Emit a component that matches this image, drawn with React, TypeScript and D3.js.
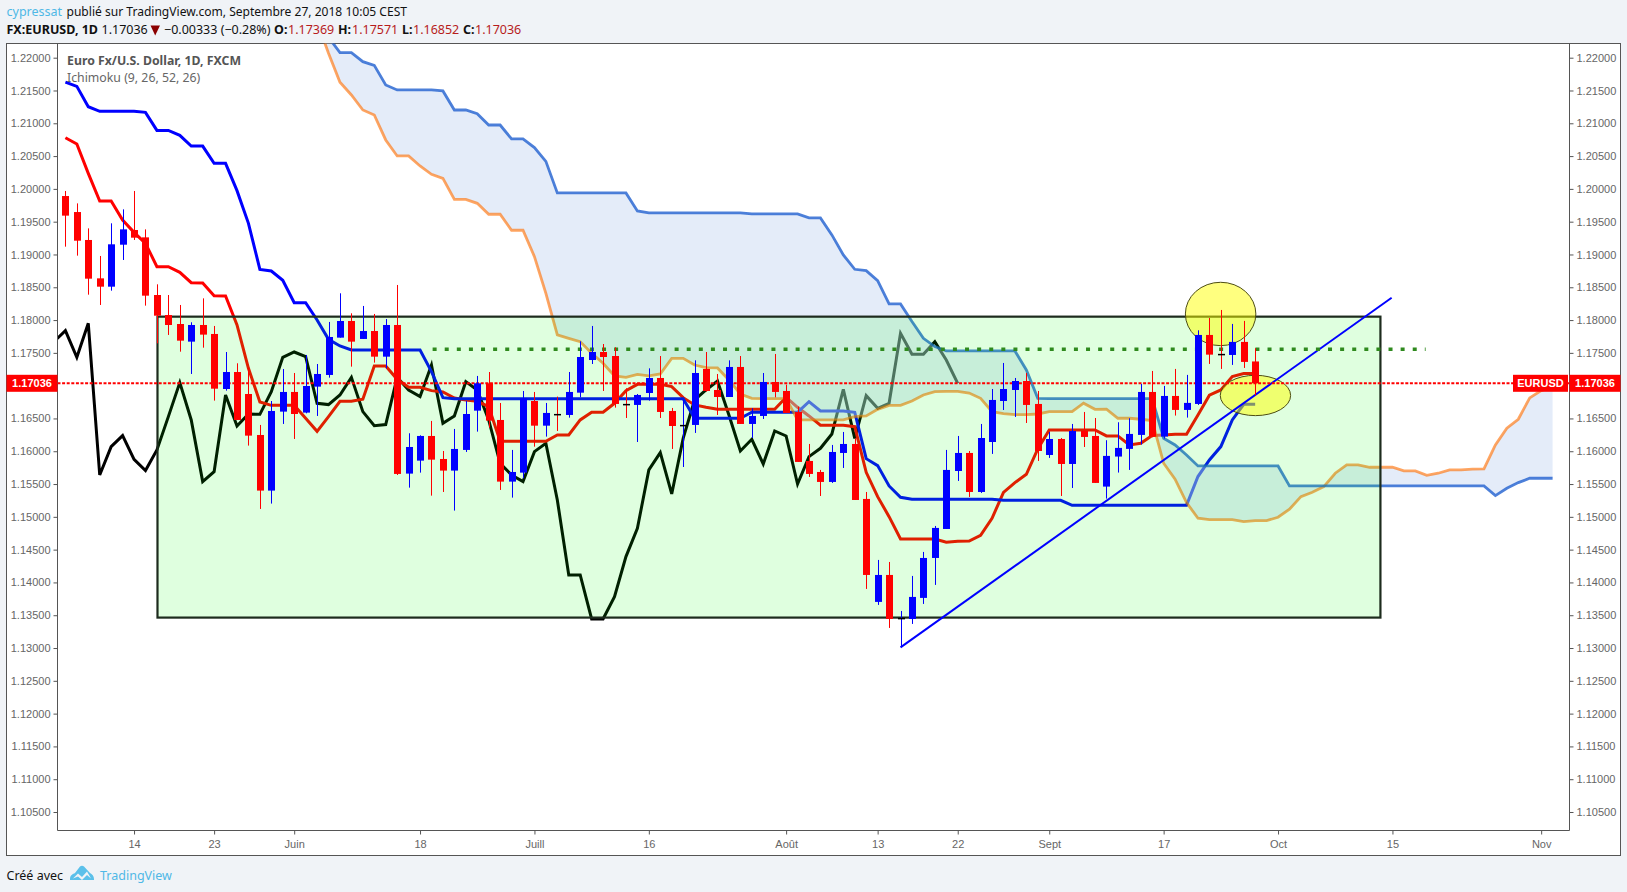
import React, { useEffect, useRef } from "react";
import * as d3 from "d3";

const WIDTH = 1627;
const HEIGHT = 892;

// one candle per weekday, index 0 = 4 May 2018
const opens = [
	1.19891, 1.19647, 1.19221, 1.18636, 1.18509, 1.19149, 1.19373, 1.19261, 1.18382, 1.18077,
	1.1794, 1.17671, 1.17925, 1.17788, 1.16949, 1.17208, 1.16873, 1.16248, 1.154, 1.16604,
	1.16904, 1.16589, 1.16985, 1.17163, 1.17732, 1.17986, 1.17712, 1.17833, 1.17442, 1.17925,
	1.15659, 1.15857, 1.16233, 1.15882, 1.15705, 1.1602, 1.16619, 1.17036, 1.16477, 1.15537,
	1.15674, 1.16766, 1.1639, 1.16569, 1.16553, 1.16893, 1.17391, 1.17513, 1.17452, 1.16722,
	1.16706, 1.16888, 1.17117, 1.16614, 1.164, 1.16401, 1.17254, 1.16934, 1.16827, 1.17285,
	1.16416, 1.16538, 1.17056, 1.16919, 1.16599, 1.15852, 1.15684, 1.15532, 1.15974, 1.16111,
	1.15273, 1.13703, 1.14114, 1.13458, 1.13443, 1.13764, 1.14373, 1.14815, 1.15699, 1.15974,
	1.15379, 1.16141, 1.16766, 1.16934, 1.17071, 1.16721, 1.15943, 1.16187, 1.15806, 1.16309,
	1.16233, 1.15461, 1.15919, 1.16036, 1.16249, 1.16904, 1.16224, 1.16843, 1.1663, 1.16721,
	1.17773, 1.17485, 1.17468, 1.17667, 1.17369,
];
const highs = [
	1.19968, 1.19779, 1.19398, 1.18977, 1.19475, 1.19688, 1.19968, 1.19383, 1.18545, 1.18382,
	1.1823, 1.17966, 1.18331, 1.1791, 1.17513, 1.17341, 1.17264, 1.16401, 1.16766, 1.17254,
	1.17193, 1.17468, 1.1733, 1.17971, 1.18408, 1.18103, 1.18215, 1.18093, 1.18016, 1.18535,
	1.16274, 1.16243, 1.16462, 1.16004, 1.1634, 1.16766, 1.17148, 1.17208, 1.16736, 1.1602,
	1.16919, 1.16904, 1.16736, 1.16833, 1.17208, 1.17676, 1.1791, 1.17635, 1.17584, 1.1696,
	1.16873, 1.17264, 1.17452, 1.1666, 1.16782, 1.17386, 1.17513, 1.17178, 1.17386, 1.17452,
	1.16655, 1.17193, 1.17483, 1.17015, 1.1668, 1.16111, 1.15715, 1.16096, 1.16294, 1.16197,
	1.15379, 1.14343, 1.14312, 1.13565, 1.14099, 1.14465, 1.14861, 1.1602, 1.16233, 1.16004,
	1.16416, 1.16949, 1.17346, 1.17117, 1.17193, 1.16919, 1.16294, 1.16202, 1.16416, 1.16599,
	1.16507, 1.16168, 1.16442, 1.16503, 1.17026, 1.17224, 1.16996, 1.17255, 1.17164, 1.17844,
	1.18032, 1.18154, 1.17941, 1.17987, 1.17571,
];
const lows = [
	1.19119, 1.18982, 1.18387, 1.1823, 1.18448, 1.18916, 1.19221, 1.1822, 1.17645, 1.17773,
	1.17518, 1.17178, 1.17579, 1.16772, 1.16924, 1.16477, 1.16086, 1.1512, 1.15202, 1.16416,
	1.16187, 1.16578, 1.16538, 1.17122, 1.17732, 1.1729, 1.17712, 1.17351, 1.17264, 1.15638,
	1.15445, 1.15674, 1.15323, 1.15379, 1.15095, 1.15989, 1.16299, 1.1636, 1.1541, 1.15293,
	1.15588, 1.1607, 1.16223, 1.16309, 1.16512, 1.16822, 1.1733, 1.16919, 1.16665, 1.16507,
	1.16141, 1.16772, 1.16507, 1.16035, 1.1576, 1.16279, 1.16909, 1.16553, 1.16827, 1.16416,
	1.16202, 1.16492, 1.16822, 1.16584, 1.15837, 1.15608, 1.15318, 1.15517, 1.15745, 1.15257,
	1.13901, 1.13657, 1.13306, 1.13022, 1.13367, 1.13672, 1.13962, 1.14815, 1.15547, 1.15303,
	1.15364, 1.15959, 1.16629, 1.16523, 1.16431, 1.15852, 1.15898, 1.15318, 1.1544, 1.16065,
	1.15517, 1.15278, 1.15675, 1.15715, 1.16102, 1.16213, 1.16193, 1.16544, 1.16513, 1.16706,
	1.17331, 1.17255, 1.17316, 1.1727, 1.16852,
];
const closes = [
	1.19592, 1.1921, 1.18631, 1.18509, 1.19155, 1.19383, 1.19256, 1.18372, 1.18067, 1.17925,
	1.17686, 1.17925, 1.17778, 1.16954, 1.17208, 1.16477, 1.16238, 1.154, 1.16614, 1.16904,
	1.16568, 1.16995, 1.17178, 1.17742, 1.17986, 1.17671, 1.17833, 1.17442, 1.17925, 1.15654,
	1.16065, 1.16233, 1.15872, 1.15705, 1.16035, 1.16568, 1.17036, 1.16467, 1.15537, 1.15684,
	1.16807, 1.1639, 1.16584, 1.16567, 1.16904, 1.17437, 1.17513, 1.17437, 1.16721, 1.1672,
	1.16858, 1.17117, 1.16599, 1.16385, 1.16402, 1.17193, 1.16919, 1.16827, 1.17285, 1.16416,
	1.16538, 1.17056, 1.16904, 1.16584, 1.15837, 1.15654, 1.15532, 1.15989, 1.16111, 1.15257,
	1.14114, 1.14114, 1.13443, 1.1346, 1.13779, 1.14373, 1.14831, 1.15715, 1.15974, 1.15379,
	1.16202, 1.16782, 1.16949, 1.17071, 1.16706, 1.16004, 1.16187, 1.15806, 1.16309, 1.16218,
	1.15517, 1.15929, 1.16051, 1.16264, 1.16904, 1.16224, 1.16843, 1.1663, 1.16737, 1.17773,
	1.17473, 1.17483, 1.17667, 1.17362, 1.17036,
];

// base line, index 0..104
const kijun = [
	1.21629, 1.21563, 1.21253, 1.21182, 1.21182, 1.21182, 1.21182, 1.21167, 1.20892, 1.20892,
	1.20816, 1.20653, 1.20653, 1.20389, 1.20389, 1.19973, 1.19475, 1.18773, 1.18748, 1.18606,
	1.18265, 1.18265, 1.18001, 1.17706, 1.17605, 1.17544, 1.17544, 1.17544, 1.17544, 1.17544,
	1.17544, 1.17544, 1.17214, 1.16817, 1.16802, 1.16802, 1.16802, 1.16802, 1.16802, 1.16802,
	1.16802, 1.16802, 1.16802, 1.16802, 1.16802, 1.16802, 1.16802, 1.16802, 1.16802, 1.16802,
	1.16802, 1.16802, 1.16802, 1.16802, 1.16802, 1.16502, 1.16502, 1.16502, 1.16502, 1.16502,
	1.16594, 1.16594, 1.16594, 1.16594, 1.16594, 1.16756, 1.16614, 1.16614, 1.16614, 1.16594,
	1.15887, 1.15781, 1.15471, 1.15298, 1.15268, 1.15268, 1.15268, 1.15268, 1.15268, 1.15268,
	1.15268, 1.15268, 1.15252, 1.15252, 1.15252, 1.15252, 1.15252, 1.15252, 1.15176, 1.15176,
	1.15176, 1.15176, 1.15176, 1.15176, 1.15176, 1.15176, 1.15176, 1.15176, 1.15176, 1.15614,
	1.15868, 1.16071, 1.16478, 1.16716, 1.16716,
];
// conversion line, index 0..104
const tenkan = [
	1.2078, 1.20684, 1.20237, 1.19815, 1.19815, 1.19525, 1.19337, 1.1917, 1.18814, 1.18814,
	1.18728, 1.1857, 1.18565, 1.18372, 1.18367, 1.17925, 1.17264, 1.16751, 1.167, 1.167,
	1.167, 1.16502, 1.16304, 1.16528, 1.16761, 1.16761, 1.16792, 1.173, 1.173, 1.17097,
	1.16975, 1.16975, 1.16924, 1.16904, 1.16812, 1.16782, 1.16761, 1.1668, 1.16152, 1.16152,
	1.16152, 1.16152, 1.16152, 1.16248, 1.16248, 1.16477, 1.16594, 1.16594, 1.16731, 1.16924,
	1.1702, 1.1702, 1.1702, 1.16985, 1.16817, 1.16706, 1.1667, 1.16639, 1.16639, 1.16639,
	1.16639, 1.16639, 1.16639, 1.16822, 1.1667, 1.16538, 1.16396, 1.16396, 1.16396, 1.16375,
	1.15679, 1.15308, 1.15003, 1.14663, 1.14663, 1.14663, 1.14663, 1.14612, 1.14627, 1.14632,
	1.14719, 1.14978, 1.15374, 1.15522, 1.15649, 1.16035, 1.16324, 1.16324, 1.16324, 1.16324,
	1.16324, 1.16234, 1.16234, 1.16096, 1.16122, 1.16239, 1.16249, 1.16259, 1.16259, 1.16554,
	1.16854, 1.16935, 1.17138, 1.17184, 1.17184,
];
// lagging line, index -1..78
const chikou = [
	1.17671, 1.17839, 1.17432, 1.1795, 1.15638, 1.1607, 1.16238, 1.15877, 1.15705, 1.1602,
	1.16528, 1.17046, 1.16477, 1.15537, 1.15689, 1.16858, 1.16385, 1.16568, 1.16563, 1.16909,
	1.17432, 1.17513, 1.17442, 1.16731, 1.16711, 1.16858, 1.17127, 1.16604, 1.1639, 1.16406,
	1.17127, 1.16934, 1.16833, 1.17315, 1.16426, 1.16538, 1.17061, 1.16934, 1.16477, 1.15816,
	1.15638, 1.15537, 1.15994, 1.16121, 1.15257, 1.14114, 1.14114, 1.13443, 1.13443, 1.13784,
	1.14394, 1.14826, 1.15715, 1.15979, 1.15349, 1.16197, 1.16782, 1.16934, 1.17071, 1.16553,
	1.16004, 1.16182, 1.15806, 1.16309, 1.16233, 1.15501, 1.15918, 1.16045, 1.16263, 1.16944,
	1.16197, 1.16848, 1.16655, 1.16731, 1.17798, 1.17478, 1.17478, 1.17671, 1.17391, 1.17036,
];
// cloud upper-drawn line (blue), index 21..130
const leadBlue = [
	1.22676, 1.22473, 1.22311, 1.22077, 1.22077, 1.2194, 1.21884, 1.21584, 1.21508, 1.21508,
	1.21508, 1.21508, 1.21493, 1.21203, 1.21203, 1.21147, 1.20974, 1.20974, 1.20761, 1.20761,
	1.20629, 1.2042, 1.19938, 1.19938, 1.19938, 1.19938, 1.19938, 1.19938, 1.19938, 1.19663,
	1.19633, 1.19633, 1.19633, 1.19633, 1.19633, 1.19633, 1.19633, 1.19633, 1.19633, 1.19618,
	1.19618, 1.19618, 1.19618, 1.19618, 1.19557, 1.19557, 1.19298, 1.18993, 1.18774, 1.18754,
	1.18602, 1.18246, 1.18246, 1.17977, 1.17722, 1.17595, 1.17529, 1.17529, 1.17529, 1.17529,
	1.17529, 1.17529, 1.17529, 1.17239, 1.16807, 1.16802, 1.16802, 1.16802, 1.16802, 1.16802,
	1.16802, 1.16802, 1.16802, 1.16802, 1.16802, 1.16198, 1.16096, 1.15944, 1.15776, 1.15776,
	1.15776, 1.15776, 1.15776, 1.15776, 1.15776, 1.15776, 1.15472, 1.15472, 1.15472, 1.15472,
	1.15472, 1.15472, 1.15472, 1.15472, 1.15472, 1.15472, 1.15472, 1.15472, 1.15472, 1.15472,
	1.15472, 1.15472, 1.15472, 1.15472, 1.15324, 1.15436, 1.15522, 1.15588, 1.15588, 1.15588,
];
// cloud orange line, index 21..130
const leadOrange = [
	1.22778, 1.2255, 1.22067, 1.21625, 1.21432, 1.21203, 1.21127, 1.20746, 1.20502, 1.20502,
	1.20349, 1.20222, 1.20161, 1.19841, 1.19841, 1.1978, 1.19613, 1.19613, 1.19369, 1.19369,
	1.18967, 1.18408, 1.17773, 1.17722, 1.17671, 1.17493, 1.17341, 1.17148, 1.17127, 1.17173,
	1.17148, 1.17178, 1.17417, 1.17417, 1.17315, 1.17275, 1.1727, 1.17087, 1.16873, 1.16807,
	1.16802, 1.16802, 1.16802, 1.16477, 1.16477, 1.16477, 1.16477, 1.16477, 1.16528, 1.16538,
	1.16639, 1.167, 1.167, 1.16766, 1.16858, 1.16909, 1.16914, 1.16914, 1.16888, 1.16807,
	1.16604, 1.16573, 1.16558, 1.16558, 1.16568, 1.16604, 1.16604, 1.16604, 1.16732, 1.16639,
	1.1664, 1.16503, 1.16503, 1.16488, 1.16467, 1.15817, 1.15573, 1.15217, 1.14979, 1.14958,
	1.14958, 1.14958, 1.14928, 1.14943, 1.14943, 1.14994, 1.15116, 1.15309, 1.15375, 1.15461,
	1.15665, 1.15792, 1.15792, 1.15756, 1.15756, 1.15756, 1.157, 1.157, 1.15634, 1.15665,
	1.15715, 1.15715, 1.15726, 1.15731, 1.16096, 1.16351, 1.16488, 1.16813, 1.16925, 1.16986,
];

const priceTicks = d3.range(0, 24).map((k) => 1.105 + k * 0.005);
const timeTicks = [6, 13, 20, 31, 41, 51, 63, 71, 78, 86, 96, 106, 116, 129];
const timeLabels = ["14", "23", "Juin", "18", "Juill", "16", "Août", "13", "22", "Sept", "17", "Oct", "15", "Nov"];

const lastPrice = 1.17036;
// drawings, in [bar index, price]
const rangeBox = { x0: 8.05, x1: 114.95, top: 1.18052, bottom: 1.13464 };
const resistance = { x0: 32.1, x1: 118.9, price: 1.17554 };
const trendLine = [[73, 1.1301], [115.93, 1.1834]];
const circles = [
	{ x0: 97.9, x1: 104.06, top: 1.18576, bottom: 1.1761 },
	{ x0: 100.95, x1: 107.1, top: 1.17158, bottom: 1.16543 },
];

const LABEL_FONT = "'Liberation Sans', Arial, sans-serif";
const HEAD_FONT = "'Noto Sans', sans-serif";

export default function App() {
	const ref = useRef<SVGSVGElement | null>(null);

	useEffect(() => {
		if (!ref.current) return;
		document.body.style.margin = "0";
		const svg = d3.select(ref.current);
		svg.selectAll("*").remove();

		const left = 57.5;
		const right = 1569.5;
		const top = 43.5;
		const bottom = 830.5;

		const x = d3.scaleLinear().domain([0, 130]).range([65.4, 1552.6]);
		const y = d3.scaleLinear().domain([1.22, 1.105]).range([57.7, 812]);

		svg.append("rect").attr("width", WIDTH).attr("height", HEIGHT).attr("fill", "#f0f3f7");
		svg.append("rect")
			.attr("x", 6.5).attr("y", top)
			.attr("width", 1614).attr("height", 855.5 - top)
			.attr("fill", "#fff").attr("stroke", "#555").attr("stroke-width", 1);

		svg.append("clipPath").attr("id", "plot")
			.append("rect").attr("x", left).attr("y", top)
			.attr("width", right - left).attr("height", bottom - top);
		const plot = svg.append("g").attr("clip-path", "url(#plot)");

		const lineOf = (start: number) =>
			d3.line<number>().x((_, i) => x(i + start)).y((d) => y(d));
		const addLine = (vals: number[], start: number, color: string, w: number, op = 1) =>
			plot.append("path").attr("d", lineOf(start)(vals))
				.attr("fill", "none").attr("stroke", color)
				.attr("stroke-width", w).attr("stroke-opacity", op)
				.attr("stroke-linejoin", "miter");

		// ichimoku lines sit under the cloud, so the cloud greys them
		addLine(chikou, -1, "#000", 3);
		addLine(tenkan, 0, "#ff0000", 3);
		addLine(kijun, 0, "#0000ff", 3);

		const cloud = d3.area<number>()
			.x((_, i) => x(i + 21))
			.y0((_, i) => y(leadOrange[i]))
			.y1((d) => y(d));
		plot.append("path").attr("d", cloud(leadBlue))
			.attr("fill", "rgb(195,213,242)").attr("fill-opacity", 0.45);
		addLine(leadOrange, 21, "#ff6d00", 2.8, 0.62);
		addLine(leadBlue, 21, "#2060d0", 2.8, 0.8);

		// range box
		const boxX = x(rangeBox.x0);
		const boxY = y(rangeBox.top);
		const boxW = x(rangeBox.x1) - boxX;
		const boxH = y(rangeBox.bottom) - boxY;
		plot.append("rect")
			.attr("x", boxX).attr("y", boxY).attr("width", boxW).attr("height", boxH)
			.attr("fill", "#00ff00").attr("fill-opacity", 0.125)
			.attr("stroke", "#1d2b1d").attr("stroke-width", 2.2);

		// yellow circles
		plot.selectAll("ellipse.mark").data(circles).enter().append("ellipse")
			.attr("cx", (d) => (x(d.x0) + x(d.x1)) / 2)
			.attr("cy", (d) => (y(d.top) + y(d.bottom)) / 2)
			.attr("rx", (d) => (x(d.x1) - x(d.x0)) / 2)
			.attr("ry", (d) => (y(d.bottom) - y(d.top)) / 2)
			.attr("fill", "#ffff00").attr("fill-opacity", 0.5)
			.attr("stroke", "#4d4d14").attr("stroke-width", 1);

		plot.append("line")
			.attr("x1", x(trendLine[0][0])).attr("y1", y(trendLine[0][1]))
			.attr("x2", x(trendLine[1][0])).attr("y2", y(trendLine[1][1]))
			.attr("stroke", "#0000ff").attr("stroke-width", 2);

		plot.append("line")
			.attr("x1", x(resistance.x0)).attr("x2", x(resistance.x1))
			.attr("y1", y(resistance.price)).attr("y2", y(resistance.price))
			.attr("stroke", "#2f8a1e").attr("stroke-width", 3.6)
			.attr("stroke-dasharray", "4 8.1");

		plot.append("line")
			.attr("x1", left).attr("x2", right)
			.attr("y1", y(lastPrice)).attr("y2", y(lastPrice))
			.attr("stroke", "#ff0000").attr("stroke-width", 2)
			.attr("stroke-dasharray", "3 1.6");

		// candles on top of everything
		const bars = d3.range(opens.length);
		const candleColor = (i: number) => (closes[i] < opens[i] ? "#ff0000" : "#0000ff");
		const isDoji = (i: number) => Math.abs(closes[i] - opens[i]) < 0.00005;
		plot.selectAll("line.wick").data(bars).enter().append("line")
			.attr("x1", (i) => Math.round(x(i)) + 0.5).attr("x2", (i) => Math.round(x(i)) + 0.5)
			.attr("y1", (i) => y(highs[i])).attr("y2", (i) => y(lows[i]))
			.attr("stroke", candleColor).attr("stroke-width", 1);
		plot.selectAll("rect.body").data(bars).enter().append("rect")
			.attr("x", (i) => Math.round(x(i)) - 3)
			.attr("width", 7)
			.attr("y", (i) => y(Math.max(opens[i], closes[i])))
			.attr("height", (i) => Math.max(1.5, Math.abs(y(opens[i]) - y(closes[i]))))
			.attr("fill", (i) => (isDoji(i) ? "#000" : candleColor(i)));

		// axes
		const axisStyle = (g: d3.Selection<SVGGElement, unknown, null, undefined>) => {
			g.selectAll("path.domain").attr("stroke", "#555");
			g.selectAll(".tick line").attr("stroke", "#555");
			g.selectAll(".tick text")
				.attr("fill", "#666").attr("font-family", LABEL_FONT).attr("font-size", 11);
		};
		const priceFormat = d3.format(".5f");
		svg.append("g").attr("transform", `translate(${left},0)`)
			.call(d3.axisLeft(y).tickValues(priceTicks).tickFormat((d) => priceFormat(d as number)).tickSize(4).tickPadding(3).tickSizeOuter(0))
			.call(axisStyle)
			.select("path.domain").attr("d", `M0,${top}V${bottom}`);
		svg.append("g").attr("transform", `translate(${right},0)`)
			.call(d3.axisRight(y).tickValues(priceTicks).tickFormat((d) => priceFormat(d as number)).tickSize(4).tickPadding(3).tickSizeOuter(0))
			.call(axisStyle)
			.select("path.domain").attr("d", `M0,${top}V${bottom}`);
		svg.append("g").attr("transform", `translate(0,${bottom})`)
			.call(d3.axisBottom(x).tickValues(timeTicks).tickFormat((_, i) => timeLabels[i]).tickSize(4).tickPadding(6).tickSizeOuter(0))
			.call(axisStyle)
			.select("path.domain").attr("d", `M${left},0H${right}`);

		// last price labels
		const tagY = y(lastPrice);
		const tag = (bx: number, bw: number, text: string) => {
			svg.append("rect").attr("x", bx).attr("y", tagY - 8.5).attr("width", bw).attr("height", 17).attr("fill", "#ff0000");
			svg.append("text").attr("x", bx + bw / 2).attr("y", tagY + 4)
				.attr("text-anchor", "middle").attr("fill", "#fff")
				.attr("font-family", LABEL_FONT).attr("font-size", 11).attr("font-weight", "bold")
				.text(text);
		};
		tag(6.5, 51, priceFormat(lastPrice));
		tag(1513, 55, "EURUSD");
		tag(1569.5, 51, priceFormat(lastPrice));

		// legend inside the pane
		svg.append("text").attr("x", 67).attr("y", 65)
			.attr("font-family", HEAD_FONT).attr("font-size", 12.3).attr("font-weight", "bold").attr("fill", "#555")
			.text("Euro Fx/U.S. Dollar, 1D, FXCM");
		svg.append("text").attr("x", 67).attr("y", 82)
			.attr("font-family", HEAD_FONT).attr("font-size", 12.3).attr("fill", "#666")
			.text("Ichimoku (9, 26, 52, 26)");

		// header
		const head = (hx: number, hy: number, text: string, color = "#111", weight = "normal") =>
			svg.append("text").attr("x", hx).attr("y", hy)
				.attr("font-family", HEAD_FONT).attr("font-size", 12.5)
				.attr("font-weight", weight).attr("fill", color).text(text);
		head(6.5, 16, "cypressat", "#4fb8e6");
		head(66.5, 16, "publié sur TradingView.com, Septembre 27, 2018 10:05 CEST")
			.attr("textLength", 340.5).attr("lengthAdjust", "spacingAndGlyphs");
		head(6.5, 34, "FX:EURUSD, 1D", "#111", "bold");
		head(101.5, 34, "1.17036");
		svg.append("path").attr("d", "M150.5,25.5H160L155.2,35.5Z").attr("fill", "#8b0000");
		head(164, 34, "−0.00333 (−0.28%)");
		head(274, 34, "O:", "#111", "bold");
		head(288, 34, "1.17369", "#b71c1c");
		head(338, 34, "H:", "#111", "bold");
		head(352, 34, "1.17571", "#b71c1c");
		head(402, 34, "L:", "#111", "bold");
		head(413, 34, "1.16852", "#b71c1c");
		head(463, 34, "C:", "#111", "bold");
		head(475, 34, "1.17036", "#b71c1c");

		// footer
		head(6.5, 880, "Créé avec");
		svg.append("path")
			.attr("d", "M70,879C70,875 73,874 75,873L80,866.5C81,865.5 83,865.5 84,866.5L90,873C92,874 94,876 94,879V880H70Z M73,878.5L78,873.5L82,877L87,871.5L91,878.5L87,875L82,880L78,876.5Z")
			.attr("fill", "#5bc0ea").attr("fill-rule", "evenodd");
		head(100, 880, "TradingView", "#4fb8e6");
	}, []);

	return <svg ref={ref} width={WIDTH} height={HEIGHT} style={{ display: "block" }} />;
}
